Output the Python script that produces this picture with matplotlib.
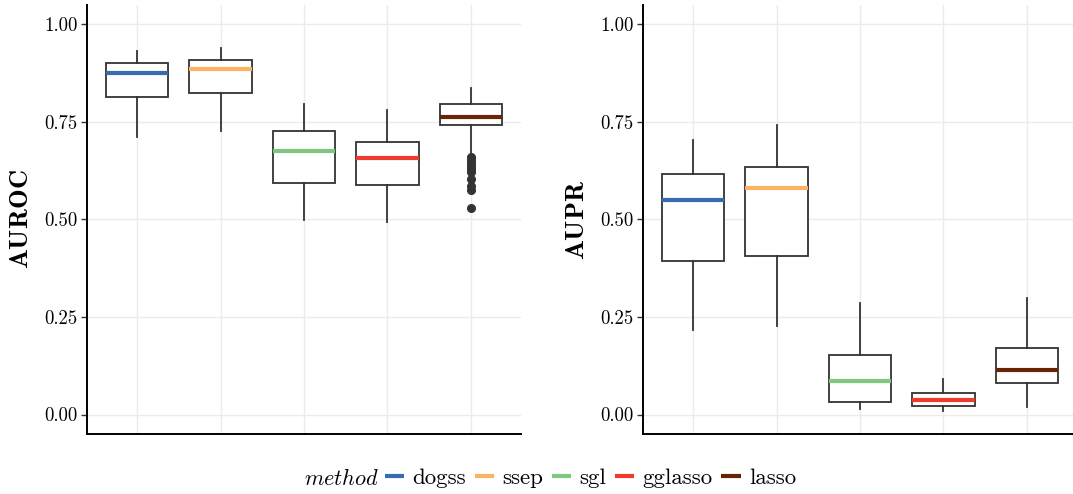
import matplotlib.pyplot as plt
from matplotlib.lines import Line2D

plt.rcParams['font.family'] = 'serif'
plt.rcParams['font.serif'] = ['cmr10']
plt.rcParams['mathtext.fontset'] = 'cm'
plt.rcParams['axes.formatter.use_mathtext'] = True

methods = ['dogss', 'ssep', 'sgl', 'gglasso', 'lasso']
colors = ['#386CB0', '#FDB462', '#7FC97F', '#EF3B2C', '#662506']

# five-number summaries per method: whislo, q1, med, q3, whishi
auroc_lo = [0.711, 0.726, 0.499, 0.494, 0.665]
auroc_q1 = [0.813, 0.824, 0.593, 0.588, 0.742]
auroc_med = [0.875, 0.885, 0.675, 0.657, 0.762]
auroc_q3 = [0.900, 0.908, 0.726, 0.698, 0.795]
auroc_hi = [0.933, 0.939, 0.795, 0.780, 0.836]
auroc_out = [[], [], [], [], [0.660, 0.652, 0.645, 0.637, 0.629, 0.621,
                              0.604, 0.586, 0.575, 0.529]]

aupr_lo = [0.217, 0.228, 0.013, 0.010, 0.020]
aupr_q1 = [0.394, 0.407, 0.033, 0.023, 0.082]
aupr_med = [0.550, 0.581, 0.087, 0.038, 0.115]
aupr_q3 = [0.616, 0.634, 0.153, 0.056, 0.171]
aupr_hi = [0.703, 0.742, 0.286, 0.090, 0.299]
aupr_out = [[], [], [], [], []]

yticks = [0.0, 0.25, 0.5, 0.75, 1.0]
yticklabels = ['0.00', '0.25', '0.50', '0.75', '1.00']


def make_stats(lo, q1, med, q3, hi, out):
    stats = []
    for i in range(len(methods)):
        stats.append(dict(whislo=lo[i], q1=q1[i], med=med[i], q3=q3[i],
                          whishi=hi[i], fliers=out[i]))
    return stats


def draw_panel(ax, stats, ylabel):
    pos = list(range(1, len(methods) + 1))
    for p in pos:
        ax.axvline(p, color='#EBEBEB', lw=1.0, zorder=0)
    for t in yticks:
        ax.axhline(t, color='#EBEBEB', lw=1.0, zorder=0)
    bp = ax.bxp(stats, positions=pos, widths=0.75, patch_artist=True,
                showcaps=False,
                boxprops=dict(facecolor='white', edgecolor='#333333', lw=1.3),
                whiskerprops=dict(color='#333333', lw=1.3),
                flierprops=dict(marker='o', markerfacecolor='#333333',
                                markeredgecolor='#333333', markersize=5.5))
    for med, c in zip(bp['medians'], colors):
        med.set_color(c)
        med.set_linewidth(3.0)
        med.set_solid_capstyle('butt')
    ax.set_xlim(0.4, 5.6)
    ax.set_ylim(-0.05, 1.05)
    ax.set_xticks([])
    ax.set_yticks(yticks)
    ax.set_yticklabels(yticklabels, fontsize=13.5)
    ax.tick_params(axis='y', length=4, width=1.0, color='#333333', pad=3)
    for side in ['top', 'right']:
        ax.spines[side].set_visible(False)
    for side in ['left', 'bottom']:
        ax.spines[side].set_linewidth(1.4)
    ax.set_ylabel(r'$\mathbf{' + ylabel + '}$', fontsize=19, labelpad=8)


fig = plt.figure(figsize=(10.73, 4.94), dpi=100)
ax1 = fig.add_axes([87 / 1073, 60 / 494, 434 / 1073, 429 / 494])
ax2 = fig.add_axes([643 / 1073, 60 / 494, 434 / 1073, 429 / 494])

draw_panel(ax1, make_stats(auroc_lo, auroc_q1, auroc_med, auroc_q3,
                           auroc_hi, auroc_out), 'AUROC')
draw_panel(ax2, make_stats(aupr_lo, aupr_q1, aupr_med, aupr_q3,
                           aupr_hi, aupr_out), 'AUPR')

fig.text(341 / 1073, 16 / 494, r'$method$', fontsize=16, ha='center',
         va='center')
handles = [Line2D([0], [0], color=c, lw=3.0, solid_capstyle='butt')
           for c in colors]
fig.legend(handles, methods, loc='center left',
           bbox_to_anchor=(385 / 1073, 16 / 494), ncol=5, frameon=False,
           fontsize=16.5, handlelength=0.85, handletextpad=0.35,
           columnspacing=0.38, borderaxespad=0, borderpad=0)

fig.savefig('out.png', dpi=100)
